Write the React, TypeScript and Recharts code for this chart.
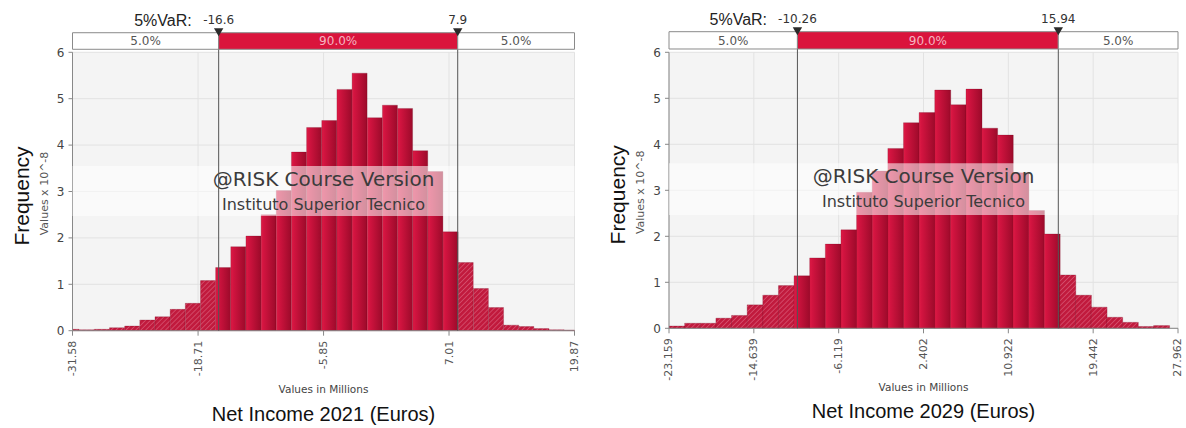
import React from 'react'
import {
  BarChart,
  Bar,
  XAxis,
  YAxis,
  CartesianGrid,
  Cell,
  ReferenceArea,
  ReferenceLine,
  ReferenceDot
} from 'recharts'

// histogram bins, values in millions, frequency in 10^-8
const BIN_START_2021 = -32.45
const BIN_WIDTH_2021 = 1.554
const FREQ_2021 = [
  0.03, 0.02, 0.03, 0.065, 0.1, 0.23, 0.3, 0.46, 0.59, 1.08, 1.36, 1.81,
  2.04, 2.5, 3.02, 3.85, 4.38, 4.53, 5.2, 5.55, 4.59, 4.86, 4.79, 3.88,
  3.43, 2.13, 1.47, 0.91, 0.5, 0.12, 0.09, 0.045, 0.02, 0.015
]
const X_TICKS_2021 = [-31.58, -18.71, -5.85, 7.01, 19.87]
const VAR_2021: [number, number] = [-16.6, 7.9]

const BIN_START_2029 = -23.159
const BIN_WIDTH_2029 = 1.57
const FREQ_2029 = [
  0.05, 0.11, 0.11, 0.22, 0.28, 0.51, 0.72, 0.93, 1.14, 1.53, 1.83, 2.14,
  2.96, 3.42, 3.91, 4.47, 4.69, 5.18, 4.86, 5.2, 4.35, 4.2, 3.38, 2.56,
  2.05, 1.16, 0.72, 0.46, 0.24, 0.13, 0.04, 0.06
]
const X_TICKS_2029 = [-23.159, -14.639, -6.119, 2.402, 10.922, 19.442, 27.962]
const VAR_2029: [number, number] = [-10.26, 15.94]

const Y_TICKS = [0, 1, 2, 3, 4, 5, 6]
const TAIL_LABELS = ['5.0%', '90.0%', '5.0%']

const TAHOMA = '"DejaVu Sans", Verdana, sans-serif'
const ARIAL = '"Liberation Sans", Arial, sans-serif'

const XTick = (props: any) => {
  const { x, y, payload } = props
  const ty = y + 3
  return (
    <text
      x={x}
      y={ty}
      transform={`rotate(-90 ${x} ${ty})`}
      textAnchor="end"
      dominantBaseline="central"
      fontSize={11}
      fill="#555"
      fontFamily={TAHOMA}
    >
      {payload.value}
    </text>
  )
}

const XTitle = (props: any) => {
  const vb = props.viewBox || { x: 0, y: 0, width: 0, height: 0 }
  const cx = vb.x + vb.width / 2
  return (
    <g>
      <text x={cx} y={vb.y + 58.5} textAnchor="middle" dominantBaseline="central" fontSize={10.5} fill="#444" fontFamily={TAHOMA}>
        Values in Millions
      </text>
      <text x={cx} y={vb.y + 83} textAnchor="middle" dominantBaseline="central" fontSize={20} fill="#111" fontFamily={ARIAL}>
        {props.title}
      </text>
    </g>
  )
}

const YTitle = (props: any) => {
  const vb = props.viewBox || { x: 0, y: 0, width: 0, height: 0 }
  const cy = vb.y + vb.height / 2
  const fx = vb.x - 21
  const fy = cy + 4.5
  const vx = vb.x + 1.5
  const vy = cy + 2
  return (
    <g>
      <text x={fx} y={fy} transform={`rotate(-90 ${fx} ${fy})`} textAnchor="middle" dominantBaseline="central" fontSize={21} fill="#111" fontFamily={ARIAL}>
        Frequency
      </text>
      <text x={vx} y={vy} transform={`rotate(-90 ${vx} ${vy})`} textAnchor="middle" dominantBaseline="central" fontSize={11} fill="#555" fontFamily={TAHOMA}>
        Values x 10^-8
      </text>
    </g>
  )
}

const Watermark = (props: any) => {
  const vb = props.viewBox || { x: 0, y: 0, width: 0, height: 0 }
  const cx = vb.x + vb.width / 2
  return (
    <g>
      <text x={cx} y={vb.y + 12.8} textAnchor="middle" dominantBaseline="central" fontSize={20} fill="#3c3c3c" fontFamily={TAHOMA}>
        @RISK Course Version
      </text>
      <text x={cx} y={vb.y + 38.5} textAnchor="middle" dominantBaseline="central" fontSize={16} fill="#3c3c3c" fontFamily={TAHOMA}>
        Instituto Superior Tecnico
      </text>
    </g>
  )
}

const VarMarker = (props: any) => {
  const { cx, cy, value, prefix } = props
  if (cx == null || cy == null) return null
  const text = String(value)
  return (
    <g>
      <polygon points={`${cx - 4.7},${cy - 4.5} ${cx + 4.7},${cy - 4.5} ${cx},${cy + 3.5}`} fill="#2b2b2b" />
      <text x={cx} y={cy - 13} textAnchor="middle" dominantBaseline="central" fontSize={12} fill="#333" fontFamily={TAHOMA}>
        {text}
      </text>
      {prefix && (
        <text x={cx - text.length * 3.4 - 10} y={cy - 12.3} textAnchor="end" dominantBaseline="central" fontSize={16} fill="#222" fontFamily={ARIAL}>
          {prefix}
        </text>
      )}
    </g>
  )
}

interface HistogramProps {
  id: string
  title: string
  start: number
  binWidth: number
  freq: number[]
  xTicks: number[]
  varRange: [number, number]
  left: number
  width: number
  margin: { top: number; right: number; bottom: number; left: number }
  band: [number, number]
  box: [number, number]
}

function Histogram({ id, title, start, binWidth, freq, xTicks, varRange, left, width, margin, band, box }: HistogramProps) {
  const data = freq.map((f, i) => ({ x: start + (i + 0.5) * binWidth, f }))
  const domain: [number, number] = [xTicks[0], xTicks[xTicks.length - 1]]
  const [lo, hi] = varRange
  const solidId = `solid-${id}`
  const hatchId = `hatch-${id}`
  const boxLabel = (value: string, fill: string) => ({
    value,
    position: 'center' as const,
    fill,
    fontSize: 12,
    fontFamily: TAHOMA
  })

  return (
    <div style={{ position: 'absolute', left, top: 0 }}>
      <BarChart width={width} height={428} data={data} margin={margin} barCategoryGap={0} barGap={0}>
        <defs>
          <linearGradient id={solidId} x1="0" y1="0" x2="1" y2="0">
            <stop offset="0%" stopColor="#e01c46" />
            <stop offset="15%" stopColor="#d31440" />
            <stop offset="100%" stopColor="#9c0a2a" />
          </linearGradient>
          <pattern id={hatchId} width="3.5" height="3.5" patternUnits="userSpaceOnUse" patternTransform="rotate(45)">
            <rect width="3.5" height="3.5" fill="#c11a3d" />
            <line x1="0" y1="0" x2="0" y2="3.5" stroke="#df6c86" strokeWidth="1.1" />
          </pattern>
        </defs>
        <CartesianGrid fill="#f4f4f4" fillOpacity={1} stroke="#e2e2e2" />
        <XAxis
          type="number"
          dataKey="x"
          domain={domain}
          ticks={xTicks}
          interval={0}
          allowDataOverflow
          height={45}
          tick={<XTick />}
          tickSize={5}
          tickMargin={2}
          tickLine={{ stroke: '#888' }}
          axisLine={{ stroke: '#888' }}
          label={(p: any) => <XTitle {...p} title={title} />}
        />
        <YAxis
          type="number"
          domain={[0, 6]}
          ticks={Y_TICKS}
          interval={0}
          width={30}
          tickSize={4}
          tickMargin={4}
          tick={{ fontSize: 12, fill: '#444', fontFamily: TAHOMA }}
          tickLine={{ stroke: '#888' }}
          axisLine={{ stroke: '#888' }}
          label={(p: any) => <YTitle {...p} />}
        />
        <Bar dataKey="f" isAnimationActive={false} stroke="#70061c" strokeOpacity={0.35} strokeWidth={0.7}>
          {data.map((d, i) => (
            <Cell key={i} fill={d.x < lo || d.x > hi ? `url(#${hatchId})` : `url(#${solidId})`} />
          ))}
        </Bar>
        <ReferenceArea
          y1={band[0]}
          y2={band[1]}
          fill="#ffffff"
          fillOpacity={0.55}
          stroke="none"
          zIndex={650}
          label={(p: any) => <Watermark {...p} />}
        />
        <ReferenceLine segment={[{ x: lo, y: 0 }, { x: lo, y: box[1] }]} stroke="#555" ifOverflow="visible" zIndex={700} />
        <ReferenceLine segment={[{ x: hi, y: 0 }, { x: hi, y: box[1] }]} stroke="#555" ifOverflow="visible" zIndex={700} />
        <ReferenceArea x1={domain[0]} x2={lo} y1={box[0]} y2={box[1]} ifOverflow="visible" fill="#ffffff" fillOpacity={1} stroke="#8a8a8a" zIndex={720} label={boxLabel(TAIL_LABELS[0], '#555')} />
        <ReferenceArea x1={lo} x2={hi} y1={box[0]} y2={box[1]} ifOverflow="visible" fill="#da143c" fillOpacity={1} stroke="#8a8a8a" zIndex={720} label={boxLabel(TAIL_LABELS[1], '#f5b4c1')} />
        <ReferenceArea x1={hi} x2={domain[1]} y1={box[0]} y2={box[1]} ifOverflow="visible" fill="#ffffff" fillOpacity={1} stroke="#8a8a8a" zIndex={720} label={boxLabel(TAIL_LABELS[2], '#555')} />
        <ReferenceDot x={lo} y={box[1]} r={4} ifOverflow="visible" zIndex={800} shape={(p: any) => <VarMarker {...p} value={lo} prefix="5%VaR:" />} />
        <ReferenceDot x={hi} y={box[1]} r={4} ifOverflow="visible" zIndex={800} shape={(p: any) => <VarMarker {...p} value={hi} />} />
      </BarChart>
    </div>
  )
}

export default function App() {
  return (
    <div style={{ position: 'absolute', left: 0, top: 0, width: 1186, height: 428, background: '#fff' }}>
      <Histogram
        id="y2021"
        title="Net Income 2021 (Euros)"
        start={BIN_START_2021}
        binWidth={BIN_WIDTH_2021}
        freq={FREQ_2021}
        xTicks={X_TICKS_2021}
        varRange={VAR_2021}
        left={0}
        width={593}
        margin={{ top: 52.3, right: 18.5, bottom: 52.3, left: 42.5 }}
        band={[2.47, 3.55]}
        box={[6.065, 6.422]}
      />
      <Histogram
        id="y2029"
        title="Net Income 2029 (Euros)"
        start={BIN_START_2029}
        binWidth={BIN_WIDTH_2029}
        freq={FREQ_2029}
        xTicks={X_TICKS_2029}
        varRange={VAR_2029}
        left={593}
        width={593}
        margin={{ top: 52.3, right: 8, bottom: 54.7, left: 46 }}
        band={[2.463, 3.587]}
        box={[6.072, 6.448]}
      />
    </div>
  )
}
